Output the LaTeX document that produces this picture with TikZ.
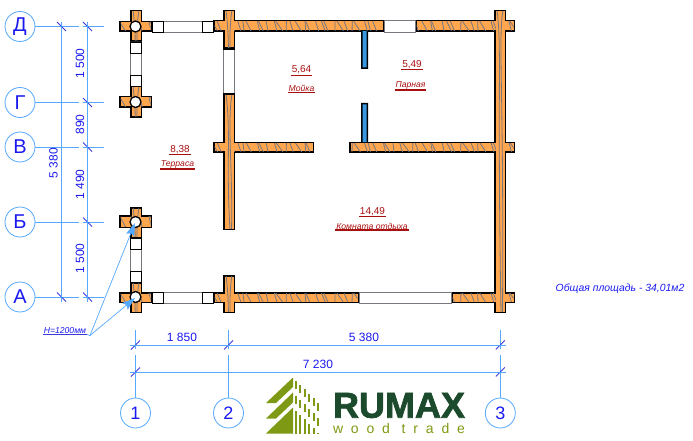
\documentclass[tikz,border=0pt]{standalone}
\usepackage{fontspec}
\setmainfont{Liberation Sans}
\newfontfamily\logomain[BoldFeatures={FakeBold=2}]{Liberation Sans}
\newfontfamily\logosub[LetterSpace=56]{Liberation Sans}
\usetikzlibrary{arrows.meta}
\definecolor{Dimblue}{HTML}{55A8FF}
\definecolor{Tickblue}{HTML}{3A3AE0}
\definecolor{Textblue}{HTML}{1A1AF0}
\definecolor{Roomred}{HTML}{A80F0F}
\definecolor{Timber}{HTML}{FFA64F}
\definecolor{Grain}{HTML}{77777F}
\definecolor{Partblue}{HTML}{3A98E0}
\definecolor{Logodark}{HTML}{1C4A2C}
\definecolor{Logolight}{HTML}{7E9A14}
\tikzset{
  % one unit is one pixel of the plan, y runs downwards
  plan/.style={x=1pt,y=-1pt},
  % axis balls and dimension lines
  axisball/.style={circle,draw=Dimblue,fill=white,thick,minimum size=30pt,inner sep=0pt,
    text=Textblue,font=\fontsize{20}{22}\selectfont},
  axisnum/.style={axisball,font=\fontsize{18}{20}\selectfont},
  dimline/.style={Dimblue,line width=.8pt},
  dimtick/.style={Tickblue,line width=.8pt},
  dimtext/.style={text=Textblue,inner sep=0pt,font=\fontsize{12}{14}\selectfont},
  % walls
  wallout/.style={fill=black},
  wallin/.style={fill=Timber},
  grain/.style={Grain,line width=.8pt},
  winbox/.style={draw=Grain,fill=white,line width=.9pt},
  winend/.style={draw=black,fill=white,line width=.9pt},
  % room labels, each with its rule below
  roomnum/.style={text=Roomred,inner sep=0pt,outer sep=1pt,font=\fontsize{10}{12}\selectfont,
    append after command={(\tikzlastnode.south west) edge[Roomred,line width=.8pt] (\tikzlastnode.south east)}},
  roomname/.style={text=Roomred,inner sep=0pt,outer sep=1pt,font=\fontsize{8.6}{10}\selectfont\itshape,
    append after command={(\tikzlastnode.south west) edge[Roomred,line width=1.4pt] (\tikzlastnode.south east)}},
  heightnote/.style={text=Textblue,inner sep=0pt,outer sep=1pt,font=\fontsize{8.6}{10}\selectfont\itshape,
    append after command={(\tikzlastnode.south west) edge[Tickblue,line width=.8pt] (\tikzlastnode.south east)}},
  leader/.style={Dimblue,line width=.7pt,-{Stealth[length=13pt,width=8.5pt,inset=2pt]}},
}
% x0/y0/x1/y1 of the outlines of the logs
\newcommand{\hlogs}{213/20/384/32,415/20/515/32,213/141.5/314/152.5,349/141.5/515/152.5,213/292/359/303,451/292/515/303,119/21/152/32,119/96/152/108,119/215/152/228,119/292/152/303}
\newcommand{\vlogs}{223/10/235/49,223/94/235/230,223/275/235/313,494/10/506/313,130/10/142/42,130/86/142/118,130/207/142/238,130/282/142/313}

\begin{document}
\begin{tikzpicture}[plan]
  \useasboundingbox (0,0) rectangle (693,441);
  % logs: black outline first, orange inside, then the grain
  \foreach \xa/\ya/\xb/\yb in \hlogs {\fill[wallout] (\xa,\ya) rectangle (\xb,\yb);}
  \foreach \xa/\ya/\xb/\yb in \vlogs {\fill[wallout] (\xa,\ya) rectangle (\xb,\yb);}
  \foreach \xa/\ya/\xb/\yb in \hlogs {
    \fill[wallin] (\xa+1.5,\ya+1.5) rectangle (\xb-1.5,\yb-1.5);
    \begin{scope}
      \clip (\xa+1.5,\ya+1.5) rectangle (\xb-1.5,\yb-1.5);
      \foreach \x [evaluate=\x as \xr using {\x+3*sin(\x*23)},
                   evaluate=\x as \xs using {\x+4+2*cos(\x*17)}] in {116,122,...,516}
        \draw[grain] (\xr,\ya) -- (\xs,\yb);
    \end{scope}
  }
  \foreach \xa/\ya/\xb/\yb in \vlogs {
    \fill[wallin] (\xa+1.5,\ya+1.5) rectangle (\xb-1.5,\yb-1.5);
    \begin{scope}
      \clip (\xa+1.5,\ya+1.5) rectangle (\xb-1.5,\yb-1.5);
      \draw[grain] (\xa+3,\ya) .. controls (\xa+8,\ya+40) and (\xa+3,\ya+70) .. (\xa+7,\yb);
      \draw[grain] (\xa+9,\ya) .. controls (\xa+4,\ya+30) and (\xa+10,\ya+80) .. (\xa+8.5,\yb);
    \end{scope}
  }
  % partitions
  \fill[wallout] (361,31) rectangle (368,69) (361,103) rectangle (368,142);
  \fill[Partblue] (362.5,31) rectangle (366.5,67.5) (362.5,104.5) rectangle (366.5,142);
  % windows
  \draw[winbox] (152,21) rectangle (213,32) (152,292) rectangle (213,303);
  \draw[winbox] (130.5,42) rectangle (141.5,86) (130.5,238) rectangle (141.5,282);
  \draw[winbox] (223.5,49) rectangle (234.5,94);
  \draw[winbox] (384,20.5) rectangle (415,32) (359,292.5) rectangle (451,303);
  \foreach \xa in {152,202} {
    \draw[winend] (\xa,21) rectangle (\xa+11,32);
    \draw[winend] (\xa,292) rectangle (\xa+11,303);
  }
  \foreach \ya in {42,75,238,271}
    \draw[winend] (130.5,\ya) rectangle (141.5,\ya+11);
  \draw[black,line width=1.3pt] (223,49) -- (235,49) (223,94) -- (235,94);
  % posts
  \foreach \nm/\yy in {D/26.5,G/102,B/222,A/297}
    \node[circle,draw=black,fill=white,line width=1.3pt,minimum size=11pt,inner sep=0pt] (post\nm) at (135.5,\yy) {};

  % axes on the left
  \foreach \nm/\yy/\txt in {D/26.5/Д,G/102.5/Г,V/147/В,B/222/Б,A/297/А} {
    \node[axisball] (ball\nm) at (20,\yy) {\txt};
    \coordinate (gap\nm) at (79,\yy);
    \coordinate (ext\nm) at (83,\yy);
    \coordinate (end\nm) at (104,\yy);
    \coordinate (tick\nm) at (87.5,\yy);
    \draw[dimline] (ball\nm) -- (gap\nm);
    \draw[dimline] (ext\nm) -- (end\nm);
    \draw[dimtick] (tick\nm) ++(-4.5,-4.5) -- ++(9,9);
  }
  \coordinate (outD) at (61.5,26.5);
  \coordinate (outA) at (61.5,297);
  \draw[dimtick] (outD) ++(-4.5,-4.5) -- ++(9,9);
  \draw[dimtick] (outA) ++(-4.5,-4.5) -- ++(9,9);
  \draw[dimline] (61.5,22) -- (61.5,302);
  \draw[dimline] (87.5,22) -- (87.5,302);
  \node[dimtext,rotate=90] (dimAll) at (53.5,163) {5 380};
  \node[dimtext,rotate=90] (dimDG) at (80,63.5) {1 500};
  \node[dimtext,rotate=90] (dimGV) at (80,124.5) {890};
  \node[dimtext,rotate=90] (dimVB) at (80,184.5) {1 490};
  \node[dimtext,rotate=90] (dimBA) at (80,258.5) {1 500};

  % axes at the bottom
  \foreach \nm/\xx/\txt in {One/135.5/1,Two/228.5/2,Three/500.3/3} {
    \node[axisnum] (ball\nm) at (\xx,413) {\txt};
    \coordinate (top\nm) at (\xx,330);
    \coordinate (gapa\nm) at (\xx,349);
    \coordinate (gapb\nm) at (\xx,355);
    \coordinate (tick\nm) at (\xx,345);
    \draw[dimline] (top\nm) -- (gapa\nm);
    \draw[dimline] (gapb\nm) -- (ball\nm);
    \draw[dimtick] (tick\nm) ++(-4.5,4.5) -- ++(9,-9);
  }
  \foreach \xx in {135.5,500.3}
    \draw[dimtick] (\xx,372) ++(-4.5,4.5) -- ++(9,-9);
  \draw[dimline] (130,345) -- (506,345);
  \draw[dimline] (130,372) -- (506,372);
  \node[dimtext] (dimOne) at (182,337) {1 850};
  \node[dimtext] (dimTwo) at (364,337) {5 380};
  \node[dimtext] (dimSum) at (318,364) {7 230};

  % rooms
  \node[roomnum] (areaWash) at (301.5,70) {5,64};
  \node[roomname] (nameWash) at (301.5,88.5) {Мойка};
  \node[roomnum] (areaSteam) at (412,64.5) {5,49};
  \node[roomname] (nameSteam) at (410.5,85) {Парная};
  \node[roomnum] (areaDeck) at (180,149.5) {8,38};
  \node[roomname] (nameDeck) at (177.5,164) {Терраса};
  \node[roomnum] (areaRest) at (372.5,211.5) {14,49};
  \node[roomname] (nameRest) at (372,226) {Комната отдыха};

  % note on the posts
  \node[heightnote] (postNote) at (65,330.5) {H=1200мм};
  \coordinate (noteEnd) at (90,335.5);
  \coordinate (tipB) at (135,223);
  \coordinate (tipA) at (135,298);
  \draw[Dimblue,line width=.7pt] (postNote.south east) -- (noteEnd);
  \draw[leader] (noteEnd) -- (tipB);
  \draw[leader] (noteEnd) -- (tipA);

  \node[text=Textblue,inner sep=0pt,font=\fontsize{10.4}{12}\selectfont\itshape] (totalArea) at (620,288.5) {Общая площадь - 34,01м2};

  % logo
  \fill[Logolight] (293,377.5) -- (266,403) -- (276,403) -- (293,387) -- cycle;
  \fill[Logolight] (293,392.5) -- (266,418.5) -- (276,418.5) -- (293,402.5) -- cycle;
  \fill[Logolight] (293,407.5) -- (266,433.5) -- (293,433.5) -- cycle;
  \foreach \xx [evaluate=\xx as \yt using {377.5+(\xx-293)}] in {296,300.4,304.8,309.2,313.6,318} {
    \fill[Logolight] (\xx-1,\yt) rectangle (\xx+1,\yt+8);
    \fill[Logolight] (\xx-1,\yt+15) rectangle (\xx+1,\yt+23);
    \fill[Logolight] (\xx-1,\yt+30) rectangle (\xx+1,433.5);
  }
  \node[text=Logodark,inner sep=0pt,font=\fontsize{36}{38}\selectfont\logomain\bfseries] (logoName) at (399,405.5) {RUMAX};
  \node[text=Logolight,inner sep=0pt,text height=9pt,text depth=0pt,font=\fontsize{14}{15}\selectfont\logosub] (logoSub) at (399,428.5) {wood trade};
\end{tikzpicture}
\end{document}
